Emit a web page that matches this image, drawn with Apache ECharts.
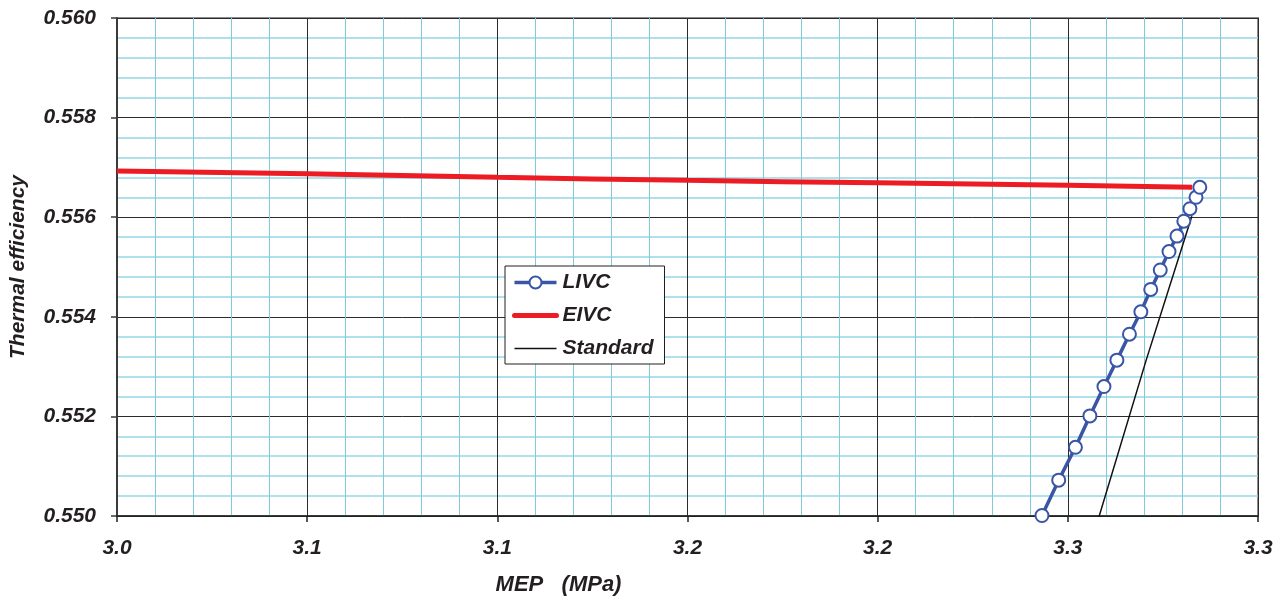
<!DOCTYPE html>
<html>
<head>
<meta charset="utf-8">
<script src="https://cdn.jsdelivr.net/npm/echarts@6/dist/echarts.min.js"></script>
<style>
    html, body { margin: 0; padding: 0; background: #fff; }
    #chart { width: 1283px; height: 601px; }
</style>
</head>
<body>
<div id="chart"></div>
<script>
// LIVC points (MEP, efficiency)
const livcMep = [3.2432, 3.2476, 3.2520, 3.2558, 3.2595, 3.2629, 3.2662, 3.2692,
    3.2718, 3.2743, 3.2766, 3.2787, 3.2805, 3.2821, 3.2837, 3.2847];
const livcEff = [0.55001, 0.55072, 0.55138, 0.55201, 0.55260, 0.55313, 0.55365, 0.55410,
    0.55455, 0.55494, 0.55531, 0.55562, 0.55592, 0.55617, 0.55640, 0.55660];

// EIVC line
const eivcMep = [3.00, 3.05, 3.10, 3.15, 3.20, 3.25, 3.2827];
const eivcEff = [0.55693, 0.55687, 0.55680, 0.55674, 0.55669, 0.55664, 0.55660];

// Standard line
const stdMep = [3.2577, 3.2706, 3.2826];
const stdEff = [0.54986, 0.55313, 0.55602];

const seriesNames = ['LIVC', 'EIVC', 'Standard'];

function pairs(xs, ys) {
    return xs.map((x, i) => [x, ys[i]]);
}

const font = 'Liberation Sans, Arial, sans-serif';
const labelStyle = {
    fontFamily: font,
    fontSize: 21,
    fontWeight: 'bold',
    fontStyle: 'italic',
    color: '#231f20'
};

var chart = echarts.init(document.getElementById('chart'), null, { renderer: 'canvas' });

var option = {
    animation: false,
    backgroundColor: '#fff',
    grid: {
        left: 117,
        right: 25,
        top: 18,
        bottom: 85,
        show: true,
        borderColor: '#8c8c8c',
        borderWidth: 2,
        backgroundColor: 'transparent'
    },
    legend: {
        data: [
            { name: seriesNames[0], lineStyle: { width: 3.5 } },
            { name: seriesNames[1], lineStyle: { width: 5, cap: 'round' }, itemStyle: { opacity: 0 } },
            { name: seriesNames[2], lineStyle: { width: 1.5 }, itemStyle: { opacity: 0 } }
        ],
        orient: 'vertical',
        left: 505,
        top: 266,
        padding: [6, 11, 5, 7],
        itemGap: 12,
        itemWidth: 42,
        itemHeight: 15,
        backgroundColor: '#fff',
        borderColor: '#231f20',
        borderWidth: 1,
        borderRadius: 0,
        textStyle: Object.assign({}, labelStyle, { padding: [0, 0, 0, 1] })
    },
    xAxis: {
        type: 'value',
        min: 3.0,
        max: 3.3,
        interval: 0.05,
        name: 'MEP   (MPa)',
        nameLocation: 'middle',
        nameGap: 58,
        nameTextStyle: Object.assign({}, labelStyle, { fontSize: 22, padding: [0, 258, 0, 0] }),
        axisLine: { show: true, onZero: false, lineStyle: { color: '#231f20', width: 1.5 } },
        axisTick: { show: true, length: 6, lineStyle: { color: '#231f20', width: 1.5 } },
        axisLabel: Object.assign({}, labelStyle, {
            margin: 22,
            formatter: function (v) {
                return (Math.round(v * 10 + 1e-6) / 10).toFixed(1);
            }
        }),
        splitLine: { show: true, lineStyle: { color: '#2b2b2b', width: 1 } },
        minorTick: { show: false, splitNumber: 5 },
        minorSplitLine: { show: true, lineStyle: { color: '#7fcbdc', width: 1 } }
    },
    yAxis: {
        type: 'value',
        min: 0.55,
        max: 0.56,
        interval: 0.002,
        name: 'Thermal efficiency',
        nameLocation: 'middle',
        nameGap: 88,
        nameTextStyle: labelStyle,
        axisLine: { show: true, onZero: false, lineStyle: { color: '#3a3a3a', width: 2 } },
        axisTick: { show: true, length: 6, lineStyle: { color: '#3a3a3a', width: 1.5 } },
        axisLabel: Object.assign({}, labelStyle, {
            margin: 21,
            formatter: function (v) { return v.toFixed(3); }
        }),
        splitLine: { show: true, lineStyle: { color: '#2b2b2b', width: 1 } },
        minorTick: { show: false, splitNumber: 5 },
        minorSplitLine: { show: true, lineStyle: { color: '#94d8e6', width: 1.5 } }
    },
    series: [
        {
            name: seriesNames[0],
            type: 'line',
            data: pairs(livcMep, livcEff),
            symbol: 'circle',
            symbolSize: 13,
            z: 4,
            lineStyle: { color: '#3a55a6', width: 3.5 },
            itemStyle: { color: '#fff', borderColor: '#3a55a6', borderWidth: 2 }
        },
        {
            name: seriesNames[1],
            type: 'line',
            data: pairs(eivcMep, eivcEff),
            symbol: 'none',
            smooth: true,
            z: 3,
            lineStyle: { color: '#ed1c24', width: 5 },
            itemStyle: { color: '#ed1c24' }
        },
        {
            name: seriesNames[2],
            type: 'line',
            data: pairs(stdMep, stdEff),
            symbol: 'none',
            z: 3,
            lineStyle: { color: '#111', width: 1.5 },
            itemStyle: { color: '#111' }
        }
    ]
};

chart.setOption(option);
</script>
</body>
</html>
